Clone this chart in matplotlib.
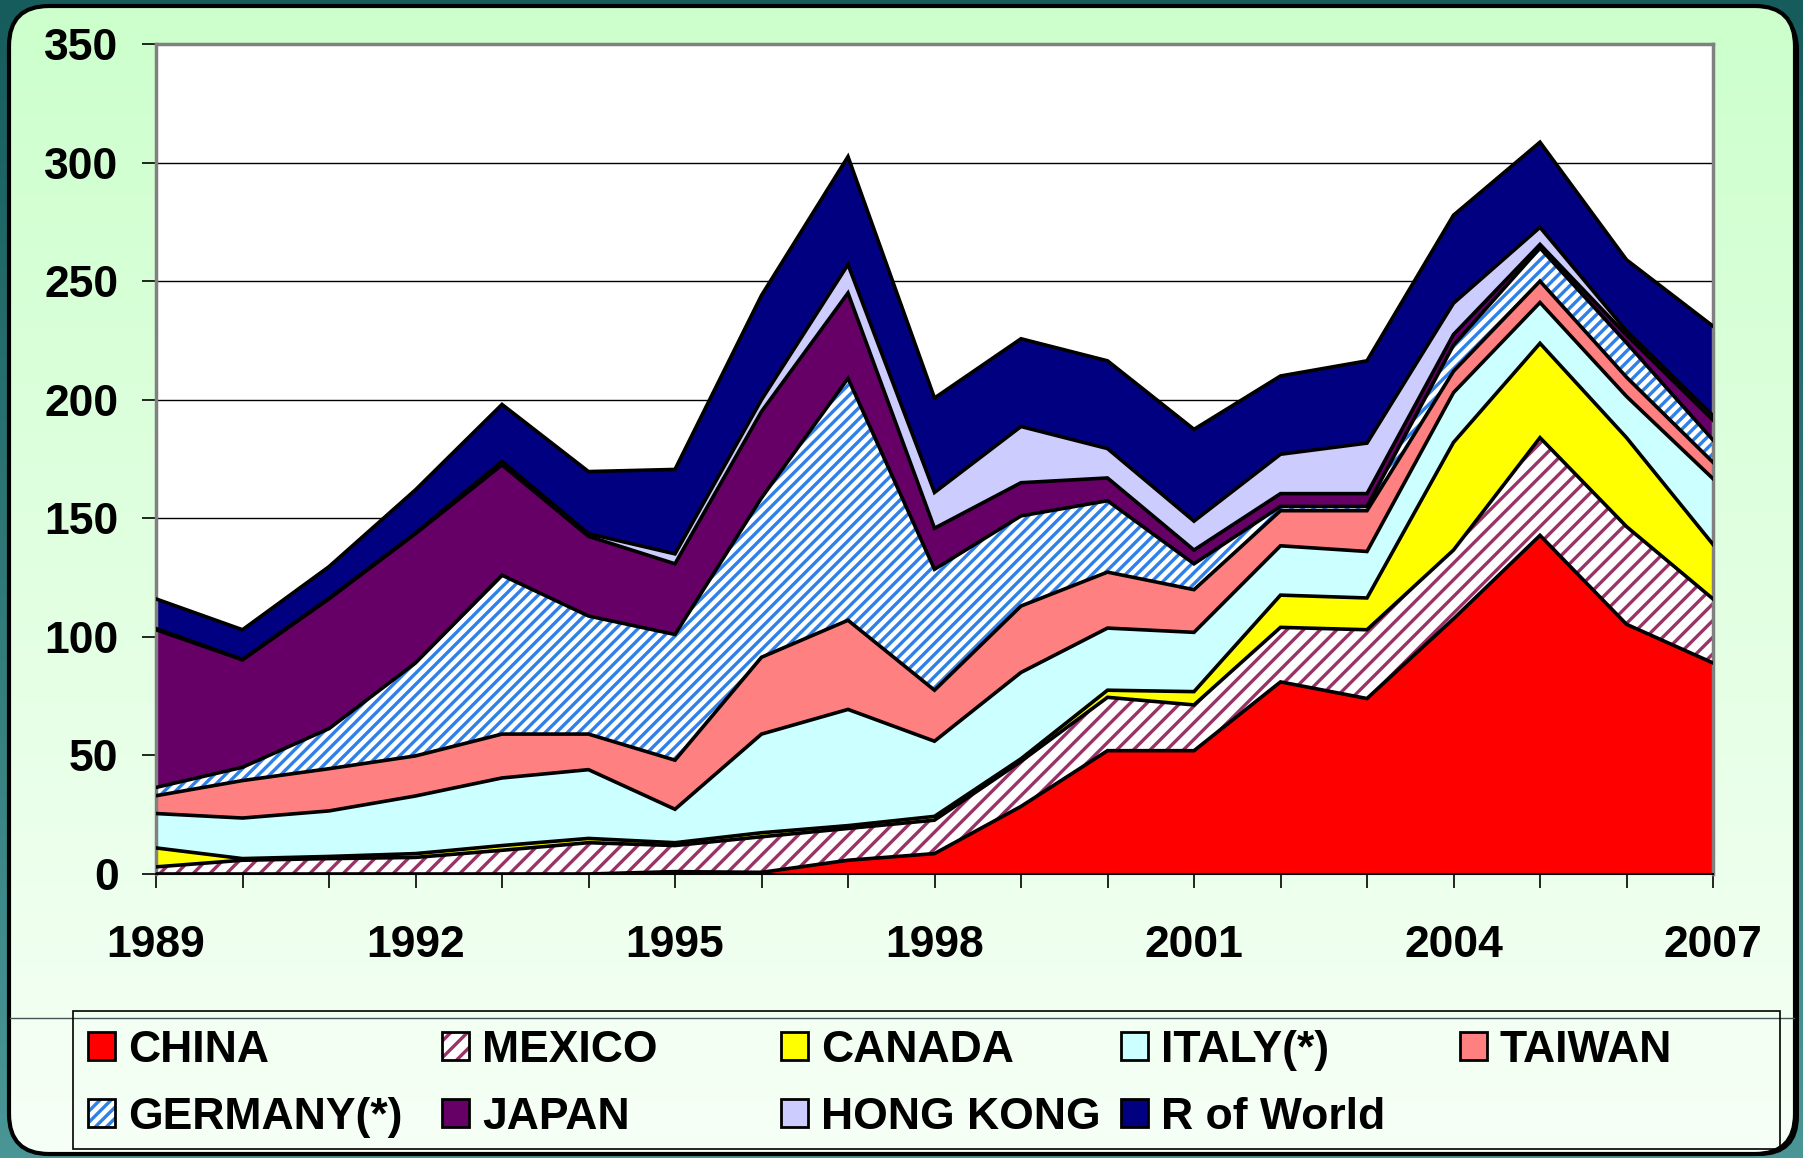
import numpy as np
import matplotlib
matplotlib.use("Agg")
import matplotlib.pyplot as plt
from matplotlib.patches import FancyBboxPatch, Rectangle, Patch
from matplotlib.colors import LinearSegmentedColormap

plt.rcParams['font.family'] = ['Liberation Sans', 'DejaVu Sans']
plt.rcParams['font.weight'] = 'bold'
plt.rcParams['hatch.linewidth'] = 2.4

years = list(range(1989, 2008))
china = [0, 0, 0, 0, 0, 0, 1, 0.7, 5.8, 8.6, 28.5, 52, 52, 81, 74, 107.6, 142.8, 105.3, 89]
mexico = [3, 5.8, 6.5, 7, 10, 13.2, 11, 15, 13.4, 14.1, 19, 22.5, 19.3, 23, 29, 29, 41.2, 41.2, 27]
canada = [8, 0.7, 0.9, 1.6, 2, 1.8, 1.2, 1.7, 1.2, 1.6, 1.1, 3, 5.6, 13.6, 13.4, 45.4, 39.8, 37.5, 23]
italy = [14.5, 17.1, 19.2, 24.3, 28.5, 29, 14.1, 41.6, 49, 31.7, 36.4, 26.2, 25, 20.8, 19.6, 21, 17.2, 17.4, 27.7]
taiwan = [7.5, 15.8, 17.8, 16.9, 18.5, 15, 20.7, 32.4, 37.6, 21.5, 28, 23.6, 18, 14.8, 17.2, 9, 9, 8.1, 6.9]
germany = [3.5, 5.6, 16.9, 39.2, 67, 49.8, 53, 67.2, 102, 51, 38, 30.1, 10.9, 1.8, 1.8, 11, 14, 14.5, 9.4]
japan = [66.5, 45.3, 54.7, 54.5, 46.5, 33.6, 29.8, 36.4, 36, 17.3, 14, 9.6, 5.8, 5.4, 5.4, 4.5, 1.5, 3.3, 8.4]
hong_kong = [0.5, 0.2, 0.3, 0.3, 1.5, 1.1, 4.2, 5, 12, 15.1, 23.7, 12.4, 12.2, 16.6, 21.3, 13.2, 7.2, 1.7, 1.9]
rest_world = [12.5, 12.5, 13.3, 18.2, 24, 26.2, 35.6, 44, 45.5, 39.8, 37, 37, 38.7, 33, 34.7, 37.1, 35.9, 30, 37.7]

labels = ["CHINA", "MEXICO", "CANADA", "ITALY(*)", "TAIWAN",
          "GERMANY(*)", "JAPAN", "HONG KONG", "R of World"]
series = [china, mexico, canada, italy, taiwan, germany, japan, hong_kong, rest_world]
# (face colour, hatch colour, hatch)
styles = [("#ff0000", None, None),
          ("white", "#993366", "//"),
          ("#ffff00", None, None),
          ("#ccffff", None, None),
          ("#ff8080", None, None),
          ("white", "#2f80e8", "///"),
          ("#660066", None, None),
          ("#ccccff", None, None),
          ("#000080", None, None)]

W, H = 1803, 1158
fig = plt.figure(figsize=(W / 100, H / 100), dpi=100)

# background: teal with rounded light green panel
bg = fig.add_axes([0, 0, 1, 1])
grad = np.linspace(0, 1, 256).reshape(-1, 1)
teal = LinearSegmentedColormap.from_list("teal", ["#165c5c", "#4a9696"])
green = LinearSegmentedColormap.from_list("green", ["#ccffcc", "#f7fff7"])
bg.imshow(grad, extent=[0, W, H, 0], cmap=teal, aspect="auto")
shadow = FancyBboxPatch((13, 10), 1786, 1146, boxstyle="round,pad=0,rounding_size=40",
                        fc="black", ec="none")
bg.add_patch(shadow)
panel = FancyBboxPatch((9, 6), 1786, 1148, boxstyle="round,pad=0,rounding_size=40",
                       fc="none", ec="black", lw=3, zorder=3)
bg.add_patch(panel)
im = bg.imshow(grad, extent=[9, 1795, 1154, 6], cmap=green, aspect="auto", zorder=2)
im.set_clip_path(panel)
bg.plot([10, 1794], [1018, 1018], color="#445555", lw=1, zorder=4)
bg.add_patch(Rectangle((73, 1011), 1707, 138, fc="none", ec="black", lw=1.2, zorder=4))
bg.set_xlim(0, W)
bg.set_ylim(H, 0)
bg.axis("off")

# main chart
ax = fig.add_axes([156 / W, 1 - 874 / H, (1713 - 156) / W, (874 - 44) / H])
ax.set_facecolor("white")
lower = np.zeros(len(years))
for vals, (fc, hc, hatch) in zip(series, styles):
    upper = lower + np.array(vals)
    if hatch:
        ax.fill_between(years, lower, upper, facecolor=fc, edgecolor=hc, hatch=hatch, lw=0, zorder=2)
    else:
        ax.fill_between(years, lower, upper, facecolor=fc, lw=0, zorder=2)
    ax.plot(years, upper, color="black", lw=2.6, zorder=3, solid_joinstyle="miter")
    lower = upper

ax.set_xlim(1989, 2007)
ax.set_ylim(0, 350)
ax.set_yticks(range(0, 351, 50))
ax.set_xticks(years)
ax.set_xticklabels([str(y) if (y - 1989) % 3 == 0 else "" for y in years])
ax.yaxis.grid(True, color="black", lw=1)
ax.set_axisbelow(True)
ax.tick_params(axis="y", length=10, width=1.2, pad=17, labelsize=32)
ax.tick_params(axis="x", length=10, width=1.2, pad=27, labelsize=32)
for side in ["left", "top", "right"]:
    ax.spines[side].set_color("#808080")
    ax.spines[side].set_linewidth(2.5)
ax.spines["bottom"].set_color("black")
ax.spines["bottom"].set_linewidth(1.5)

# legend, five columns laid out like the original
handles = []
for (fc, hc, hatch) in styles:
    if hatch:
        handles.append((Patch(facecolor=fc, edgecolor=hc, hatch=hatch, lw=0),
                        Patch(facecolor="none", edgecolor="black", lw=2)))
    else:
        handles.append(Patch(facecolor=fc, edgecolor="black", lw=2))

col_x = [88, 442, 781, 1121, 1460]
for c, x in enumerate(col_x):
    idx = [c, c + 5] if c + 5 < len(labels) else [c]
    fig.legend([handles[i] for i in idx], [labels[i] for i in idx],
               loc="upper left", bbox_to_anchor=(x / W, 1 - 1030 / H),
               frameon=False, fontsize=32, handlelength=0.6, handleheight=0.6,
               handletextpad=0.3, labelspacing=0.58, borderpad=0, borderaxespad=0)

fig.savefig("out.png", dpi=100)
